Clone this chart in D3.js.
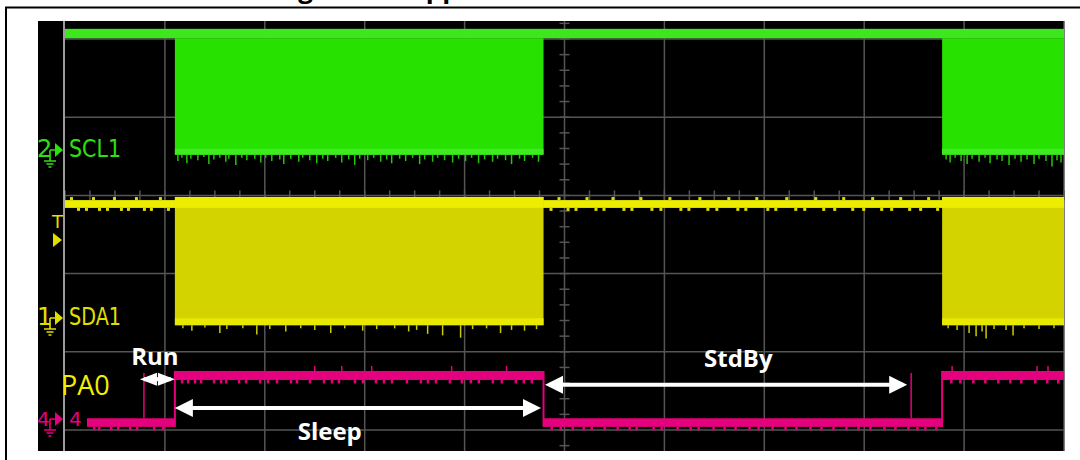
<!DOCTYPE html>
<html lang="en">
<head>
<meta charset="UTF-8">
<title>PA0 run / sleep / standby</title>
<style>
body { margin: 0; background: #fff; }
.grid line { stroke: #555; stroke-width: 1.5; }
.label { font-family: "DejaVu Sans", sans-serif; }
.note { font-family: "Open Sans", sans-serif; font-weight: bold; fill: #fff; }
</style>
</head>
<body>
<script src="https://cdn.jsdelivr.net/npm/d3@7"></script>
<script>
// time in screen divisions (10 across), levels in vertical divisions from top grid line
let burstRanges = [[1.10, 4.79], [8.78, 10]];
let sclLevels = [-0.13, -0.01, 1.48];       // band top, band bottom, burst bottom
let sdaLevels = [2.06, 2.16, 2.02, 3.66];   // band top, band bottom, burst top, burst bottom
let pa0Steps = [[0.22, 'lo'], [1.10, 'hi'], [4.79, 'lo'], [8.78, 'hi'], [10, 'end']];
let pa0Levels = {hi: [4.245, 4.36], lo: [4.85, 4.96]};
let pa0Glitches = [0.79, 8.47];

let sclSpikes = [[1.13,.08],[1.17,.04],[1.22,.11],[1.26,.05],[1.33,.07],[1.39,.03],[1.44,.12],[1.49,.06],[1.55,.04],[1.61,.09],
    [1.64,.05],[1.71,.13],[1.77,.04],[1.82,.07],[1.90,.05],[1.96,.10],[2.01,.04],[2.07,.08],[2.15,.06],[2.19,.12],[2.26,.05],
    [2.34,.09],[2.38,.04],[2.45,.07],[2.52,.11],[2.58,.05],[2.63,.08],[2.71,.04],[2.77,.10],[2.84,.06],[2.90,.13],[2.95,.05],
    [3.03,.07],[3.09,.04],[3.16,.09],[3.22,.06],[3.27,.11],[3.35,.05],[3.41,.08],[3.48,.04],[3.55,.12],[3.60,.06],[3.68,.09],
    [3.73,.04],[3.80,.07],[3.88,.10],[3.94,.05],[4.01,.08],[4.07,.04],[4.14,.11],[4.20,.06],[4.28,.09],[4.33,.05],[4.41,.07],
    [4.47,.12],[4.55,.05],[4.60,.08],[4.68,.04],[4.74,.09],
    [8.82,.06],[8.86,.10],[8.91,.04],[8.97,.08],[9.03,.12],[9.08,.05],[9.15,.09],[9.21,.04],[9.26,.11],[9.33,.06],[9.38,.08],
    [9.45,.13],[9.51,.05],[9.57,.09],[9.63,.06],[9.70,.12],[9.75,.05],[9.82,.08],[9.88,.15],[9.93,.07],[9.97,.10]];
let sdaSpikes = [[1.18,.04],[1.27,.07],[1.40,.03],[1.55,.10],[1.62,.05],[1.78,.04],[1.92,.12],[2.05,.05],[2.21,.08],[2.36,.04],
    [2.50,.06],[2.66,.10],[2.80,.04],[2.98,.07],[3.12,.05],[3.30,.04],[3.44,.08],[3.52,.06],[3.63,.11],[3.78,.13],[3.96,.16],
    [4.08,.05],[4.22,.04],[4.36,.10],[4.47,.06],[4.60,.07],[4.72,.05],
    [8.84,.04],[8.93,.06],[9.05,.10],[9.12,.14],[9.18,.08],[9.22,.17],[9.30,.05],[9.42,.06],[9.49,.13],[9.60,.04],[9.75,.05],[9.90,.04]];
let sdaIdleNotches = [0.05,0.12,0.20,0.27,0.33,0.41,0.48,0.55,0.62,0.70,0.78,0.85,0.94,1.02,
    4.85,4.93,5.02,5.10,5.21,5.30,5.38,5.47,5.58,5.66,5.75,5.86,5.95,6.04,6.15,6.23,6.34,6.42,6.51,6.63,6.72,6.80,6.91,
    7.02,7.10,7.21,7.30,7.39,7.50,7.58,7.69,7.78,7.87,7.98,8.07,8.16,8.26,8.35,8.44,8.55,8.63,8.72];
let pa0Ticks = [0.28,0.33,0.45,0.52,0.64,0.71,0.88,0.97,1.16,1.22,1.29,1.35,1.48,1.55,1.60,1.73,1.80,1.94,2.02,2.11,2.25,2.31,
    2.44,2.58,2.66,2.73,2.89,2.97,3.10,3.18,3.26,3.41,3.55,3.62,3.70,3.84,3.96,4.05,4.13,4.27,4.36,4.50,4.58,4.66,
    4.86,4.95,5.07,5.18,5.26,5.39,5.52,5.64,5.71,5.88,5.96,6.12,6.25,6.33,6.48,6.59,6.70,6.84,6.93,7.07,7.20,7.31,7.45,
    7.56,7.68,7.81,7.93,8.05,8.19,8.30,8.43,8.52,8.60,8.71,8.86,8.95,9.08,9.20,9.33,9.45,9.56,9.70,9.82,9.93];
let pa0UpSpikes = [2.50, 2.77, 3.07, 3.87, 4.42, 8.88, 9.73, 9.84];

let arrows = [{name: 'Run', from: 0.75, to: 1.10, level: 4.35, textT: 0.90, textLevel: 4.17},
    {name: 'Sleep', from: 1.10, to: 4.765, level: 4.72, textT: 2.65, textLevel: 5.13},
    {name: 'StdBy', from: 4.805, to: 8.43, level: 4.42, textT: 6.74, textLevel: 4.19}];

let green = '#27e100', greenBand = '#3ce81c', yellow = '#d3d300', yellowBand = '#eded00', pink = '#e5007d';

let svg = d3.select('body').append('svg')
    .attr('width', 1080)
    .attr('height', 460);

let x = d3.scaleLinear().domain([0, 10]).range([65, 1064]);
let y = d3.scaleLinear().domain([0, 5]).range([39, 430]);

// cut-off caption above the frame
svg.append('text')
    .attr('x', 276).attr('y', -2)
    .attr('font-family', 'Open Sans').attr('font-weight', 'bold').attr('font-size', 26)
    .text('Figure 14. Application waveforms');

// frame
svg.append('line').attr('x1', 5).attr('x2', 1080).attr('y1', 7.5).attr('y2', 7.5).attr('stroke', '#000').attr('stroke-width', 2);
svg.append('line').attr('x1', 6).attr('x2', 6).attr('y1', 7).attr('y2', 460).attr('stroke', '#000').attr('stroke-width', 2);

// scope screen
svg.append('rect').attr('x', 38).attr('y', 21).attr('width', 1026).attr('height', 430).attr('fill', '#000');

let grid = svg.append('g').attr('class', 'grid');
grid.selectAll('.v').data(d3.range(1, 11)).enter().append('line')
    .attr('x1', d => x(d)).attr('x2', d => x(d)).attr('y1', 21).attr('y2', 451);
grid.selectAll('.h').data(d3.range(0, 6)).enter().append('line')
    .attr('x1', x(0)).attr('x2', x(10)).attr('y1', d => y(d)).attr('y2', d => y(d));
// minor ticks on the centre axes
grid.selectAll('.vt').data(d3.range(-1.2, 5.4, 0.2)).enter().append('line')
    .attr('x1', x(5) - 5).attr('x2', x(5) + 5).attr('y1', d => y(d)).attr('y2', d => y(d))
    .attr('display', d => (y(d) < 21 || y(d) > 451) ? 'none' : null);
grid.selectAll('.ht').data(d3.range(0, 10.01, 0.25)).enter().append('line')
    .attr('x1', d => x(d)).attr('x2', d => x(d)).attr('y1', y(2) - 5).attr('y2', y(2) + 5);
svg.append('line').attr('x1', 64).attr('x2', 64).attr('y1', 21).attr('y2', 451)
    .attr('stroke', '#cfcfcf').attr('stroke-width', 1.5);

// SCL1
let scl = svg.append('g');
scl.append('rect').attr('x', x(0)).attr('width', x(10) - x(0))
    .attr('y', y(sclLevels[0])).attr('height', y(sclLevels[1]) - y(sclLevels[0])).attr('fill', greenBand);
scl.selectAll('.burst').data(burstRanges).enter().append('rect')
    .attr('x', d => x(d[0])).attr('width', d => x(d[1]) - x(d[0]))
    .attr('y', y(sclLevels[1])).attr('height', y(sclLevels[2]) - y(sclLevels[1])).attr('fill', green);
scl.selectAll('.edge').data(burstRanges).enter().append('rect')
    .attr('x', d => x(d[0])).attr('width', d => x(d[1]) - x(d[0]))
    .attr('y', y(sclLevels[2]) - 6).attr('height', 6).attr('fill', '#40ea22');
scl.selectAll('.sp').data(sclSpikes).enter().append('line')
    .attr('x1', d => x(d[0])).attr('x2', d => x(d[0]))
    .attr('y1', y(sclLevels[2])).attr('y2', d => y(sclLevels[2] + d[1]))
    .attr('stroke', '#24c800').attr('stroke-width', 1.5);

// SDA1
let sda = svg.append('g');
sda.append('rect').attr('x', x(0)).attr('width', x(10) - x(0))
    .attr('y', y(sdaLevels[0])).attr('height', y(sdaLevels[1]) - y(sdaLevels[0])).attr('fill', yellowBand);
sda.selectAll('.n').data(sdaIdleNotches).enter().append('rect')
    .attr('x', d => x(d)).attr('width', 3)
    .attr('y', (d, i) => i % 3 === 0 ? y(sdaLevels[0]) - 3 : y(sdaLevels[1]))
    .attr('height', 3).attr('fill', '#dede00');
sda.selectAll('.burst').data(burstRanges).enter().append('rect')
    .attr('x', d => x(d[0])).attr('width', d => x(d[1]) - x(d[0]))
    .attr('y', y(sdaLevels[2])).attr('height', y(sdaLevels[3]) - y(sdaLevels[2])).attr('fill', yellow);
sda.selectAll('.top').data(burstRanges).enter().append('rect')
    .attr('x', d => x(d[0])).attr('width', d => x(d[1]) - x(d[0]))
    .attr('y', y(sdaLevels[2])).attr('height', y(sdaLevels[1]) - y(sdaLevels[2])).attr('fill', yellowBand);
sda.selectAll('.bot').data(burstRanges).enter().append('rect')
    .attr('x', d => x(d[0])).attr('width', d => x(d[1]) - x(d[0]))
    .attr('y', y(sdaLevels[3]) - 7).attr('height', 7).attr('fill', '#e8e800');
sda.selectAll('.sp').data(sdaSpikes).enter().append('line')
    .attr('x1', d => x(d[0])).attr('x2', d => x(d[0]))
    .attr('y1', y(sdaLevels[3])).attr('y2', d => y(sdaLevels[3] + d[1]))
    .attr('stroke', '#cccc00').attr('stroke-width', 1.5);

// PA0
let pa0 = svg.append('g');
let pa0Segs = pa0Steps.slice(0, -1).map((d, i) => ({t0: d[0], t1: pa0Steps[i + 1][0], state: d[1]}));
let stateAt = t => pa0Segs.find(s => t >= s.t0 && t < s.t1).state;
pa0.selectAll('.seg').data(pa0Segs).enter().append('rect')
    .attr('x', d => x(d.t0)).attr('width', d => x(d.t1) - x(d.t0))
    .attr('y', d => y(pa0Levels[d.state][0])).attr('height', d => y(pa0Levels[d.state][1]) - y(pa0Levels[d.state][0]))
    .attr('fill', pink);
pa0.selectAll('.edge').data(pa0Segs.slice(1)).enter().append('line')
    .attr('x1', d => x(d.t0)).attr('x2', d => x(d.t0))
    .attr('y1', y(pa0Levels.hi[0])).attr('y2', y(pa0Levels.lo[1]))
    .attr('stroke', pink).attr('stroke-width', 2);
pa0.selectAll('.gl').data(pa0Glitches).enter().append('line')
    .attr('x1', d => x(d)).attr('x2', d => x(d))
    .attr('y1', y(pa0Levels.hi[0]) + 2).attr('y2', y(pa0Levels.lo[0]))
    .attr('stroke', pink).attr('stroke-width', 1.5);
pa0.selectAll('.tk').data(pa0Ticks).enter().append('rect')
    .attr('x', d => x(d)).attr('width', 2.5)
    .attr('y', d => y(pa0Levels[stateAt(d)][1])).attr('height', 3.5).attr('fill', pink);
pa0.selectAll('.up').data(pa0UpSpikes).enter().append('line')
    .attr('x1', d => x(d)).attr('x2', d => x(d))
    .attr('y1', d => y(pa0Levels[stateAt(d)][0])).attr('y2', d => y(pa0Levels[stateAt(d)][0]) - 5)
    .attr('stroke', pink).attr('stroke-width', 1.5);

// channel markers on the left edge
function marker(digit, base, color, size) {
    let g = svg.append('g').attr('fill', color).attr('stroke', color);
    g.append('text').attr('class', 'label').attr('x', 37).attr('y', base)
        .attr('font-size', size).attr('stroke', 'none').text(digit);
    g.append('path').attr('fill', 'none').attr('stroke-width', 1.6)
        .attr('d', `M50,${base - 7}H56M50,${base - 7}V${base + 4}M44,${base + 4}H56M46.5,${base + 7}H53.5M48.5,${base + 10}H51.5`);
    g.append('path').attr('stroke', 'none')
        .attr('d', `M55,${base - 14}L63,${base - 7}L55,${base}Z`);
}
marker('2', 157, '#2ee010', 24);
marker('1', 325, '#e0e000', 24);
marker('4', 426, pink, 20);

svg.append('text').attr('class', 'label').attr('x', 69).attr('y', 157).attr('font-size', 24)
    .attr('textLength', 52).attr('lengthAdjust', 'spacingAndGlyphs').attr('fill', '#2ee010').text('SCL1');
svg.append('text').attr('class', 'label').attr('x', 69).attr('y', 325).attr('font-size', 24)
    .attr('textLength', 52).attr('lengthAdjust', 'spacingAndGlyphs').attr('fill', '#e0e000').text('SDA1');
svg.append('text').attr('class', 'label').attr('x', 69).attr('y', 426).attr('font-size', 20)
    .attr('fill', pink).text('4');
svg.append('text').attr('class', 'label').attr('x', 52).attr('y', 228).attr('font-size', 18)
    .attr('fill', '#e0e000').text('T');
svg.append('path').attr('d', 'M53,233L62,240L53,247Z').attr('fill', '#e0e000');
svg.append('text').attr('x', 61).attr('y', 395).attr('font-family', 'Open Sans').attr('font-size', 27)
    .attr('fill', '#f0f000').text('PA0');

// white timing annotations
let head = (tip, yy, dir, len, half) => `M${tip},${yy}L${tip + dir * len},${yy - half}L${tip + dir * len},${yy + half}Z`;
let notes = svg.append('g');
arrows.forEach(a => {
    let x0 = x(a.from), x1 = x(a.to), yy = y(a.level);
    let len = a.name === 'Run' ? 17 : 18, half = a.name === 'Run' ? 6.5 : 9;
    notes.append('line').attr('x1', x0 + 4).attr('x2', x1 - 4).attr('y1', yy).attr('y2', yy)
        .attr('stroke', '#fff').attr('stroke-width', 4);
    notes.append('path').attr('d', head(x0, yy, 1, len, half)).attr('fill', '#fff');
    notes.append('path').attr('d', head(x1, yy, -1, len, half)).attr('fill', '#fff');
    notes.append('text').attr('class', 'note').attr('x', x(a.textT)).attr('y', y(a.textLevel))
        .attr('text-anchor', 'middle').attr('font-size', 24).text(a.name);
});
</script>
</body>
</html>
